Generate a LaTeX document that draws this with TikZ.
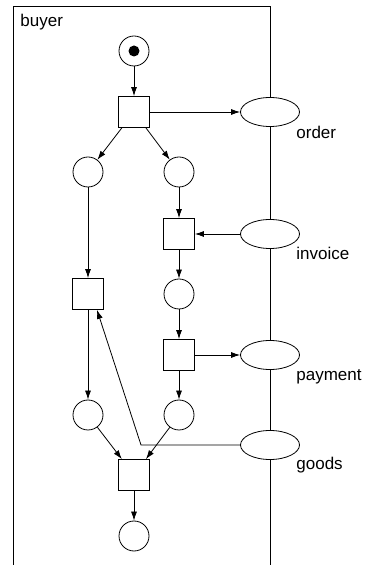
\documentclass[tikz,border=0pt]{standalone}
\usepackage{fontspec}
\setmainfont{Liberation Sans}
\usetikzlibrary{arrows.meta,positioning,shapes.geometric}

\begin{document}
\begin{tikzpicture}[->,>={Latex[length=9pt,width=6pt]},x=1pt,y=1pt,on grid,line width=0.8pt,
  plc/.style={circle,draw,fill=white,minimum size=30pt,inner sep=0pt},
  trans/.style={rectangle,draw,fill=white,minimum size=31pt,inner sep=0pt},
  chan/.style={ellipse,draw,fill=white,minimum width=59pt,minimum height=29pt,inner sep=0pt},
  tok/.style={circle,fill=black,minimum size=11pt,inner sep=0pt},
  lbl/.style={font=\fontsize{17}{20}\selectfont,inner sep=0pt,anchor=base west}]
  \useasboundingbox (0,0) rectangle (370,565);
  \draw[-] (13,0) -- (13,559) -- (270,559) -- (270,0);
  \node[lbl] 			(buyer) at (20,538)		{buyer};

  \node[plc]         		(i) at (134,514) 		{};
  \node[tok] 			(itok) at (i) 			{};
  \node[trans]         		(t1) [below=61pt of i] 		{};
  \node[chan]         		(order) [right=136pt of t1] 	{};
  \node[plc]         		(pL) [below left=60pt and 46pt of t1] 	{};
  \node[plc]         		(pR) [below right=60pt and 45pt of t1] 	{};
  \node[trans]         		(t2) [below=62pt of pR] 	{};
  \node[chan]         		(invoice) [right=91pt of t2] 	{};
  \node[plc]         		(p3) [below=60pt of t2] 	{};
  \node[trans]         		(t4) [below=61pt of p3] 	{};
  \node[chan]         		(payment) [right=91pt of t4] 	{};
  \node[plc]         		(p5) [below=60pt of t4] 	{};
  \node[chan]         		(goods) [below right=90pt and 91pt of t4] 	{};
  \node[trans]         		(t3) [below=122pt of pL] 	{};
  \node[plc]         		(p4) [below=121pt of t3] 	{};
  \node[trans]         		(t5) [below right=60pt and 46pt of p4] 	{};
  \node[plc]         		(pf) [below=61pt of t5] 	{};
  \coordinate 			(gbend) at (141,120);

  \node[lbl] at ([shift={(26pt,-27pt)}]order.center) 	{order};
  \node[lbl] at ([shift={(26pt,-26pt)}]invoice.center) 	{invoice};
  \node[lbl] at ([shift={(26pt,-26pt)}]payment.center) 	{payment};
  \node[lbl] at ([shift={(26pt,-25pt)}]goods.center) 	{goods};

  \path 	(i) edge (t1)
		(t1) edge (order)
		(t1) edge (pL)
		(t1) edge (pR)
		(pR) edge (t2)
		(invoice) edge (t2)
		(t2) edge (p3)
		(p3) edge (t4)
		(t4) edge (payment)
		(t4) edge (p5)
		(pL) edge (t3)
		(t3) edge (p4)
		(p4) edge (t5)
		(p5) edge (t5)
		(t5) edge (pf);
  \draw 	(goods.west) -- (gbend) -- ([xshift=9pt]t3.south);
\end{tikzpicture}
\end{document}
